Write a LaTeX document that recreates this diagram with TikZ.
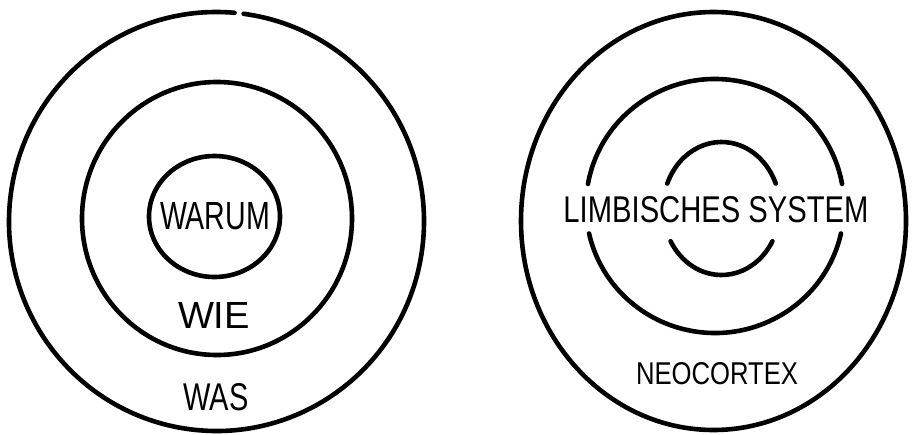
\documentclass[tikz,border=0pt]{standalone}
\usepackage{graphicx}
\usepackage{fontspec}
\setmainfont{Liberation Sans}
\begin{document}
\begin{tikzpicture}[x=1pt,y=-1pt,
  ring/.style={line width=4.6pt, line cap=round},
  lbl/.style={inner sep=0pt, font=\fontsize{30}{30}\selectfont}]
\useasboundingbox (0,0) rectangle (912,434);
% ---- left: Golden circle ----
\draw[ring] (216.5,221.5) ++(-82.5:207.5 and 209.5)
  arc[start angle=-82.5, end angle=275, x radius=207.5, y radius=209.5];
\draw[ring] (217,218.5) ellipse[x radius=135, y radius=136.5];
\draw[ring] (214.5,216.5) ellipse[x radius=65.5, y radius=60.5];
\node[lbl] (warum) at (215,216.5) {\resizebox{110pt}{27pt}{WARUM}};
\node[lbl] (wie) at (214,315) {\resizebox{72pt}{26pt}{WIE}};
\node[lbl] (was) at (216,397) {\resizebox{65pt}{27pt}{WAS}};
% ---- right: brain ----
\draw[ring] (713.5,221) ellipse[x radius=192.5, y radius=209];
\draw[ring] (715,206) ++(190:129 and 127)
  arc[start angle=190, end angle=350, x radius=129, y radius=127];
\draw[ring] (715,206) ++(12.5:129 and 127)
  arc[start angle=12.5, end angle=167.5, x radius=129, y radius=127];
\draw[ring] (721.5,208.5) ++(202:58.5 and 66.5)
  arc[start angle=202, end angle=338, x radius=58.5, y radius=66.5];
\draw[ring] (721.5,208.5) ++(29.5:58.5 and 66.5)
  arc[start angle=29.5, end angle=150.5, x radius=58.5, y radius=66.5];
\node[lbl] (limbic) at (716,210) {\resizebox{305pt}{26pt}{LIMBISCHES SYSTEM}};
\node[lbl] (neo) at (717,374) {\resizebox{162pt}{22pt}{NEOCORTEX}};
\end{tikzpicture}
\end{document}
